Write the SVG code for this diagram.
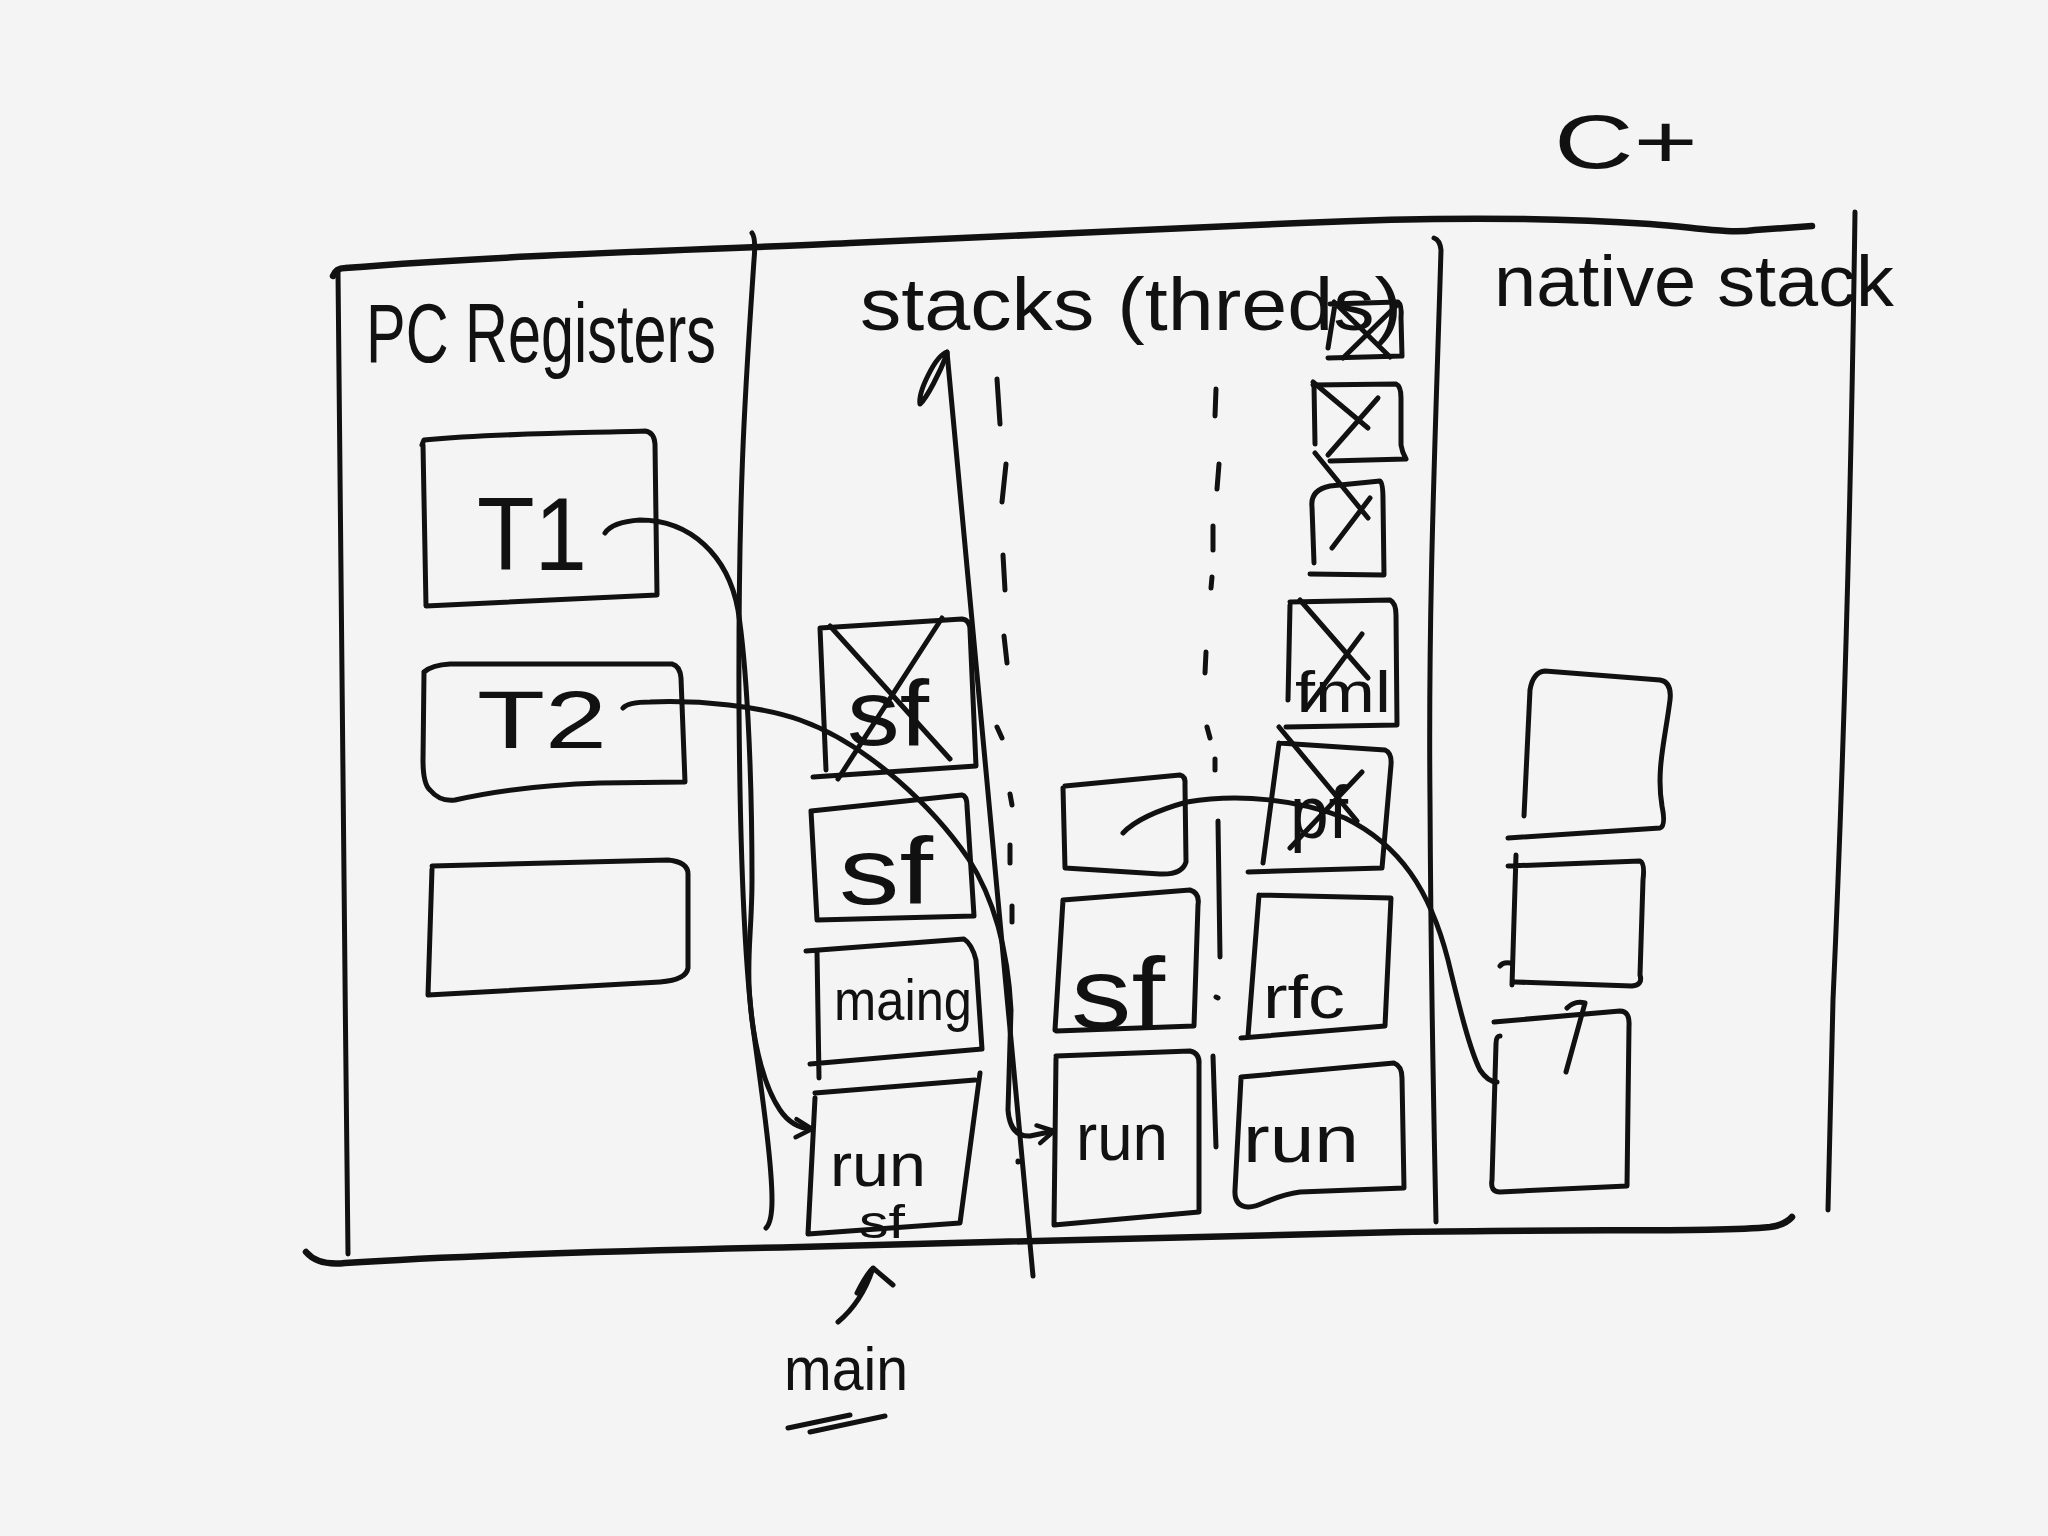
<svg xmlns="http://www.w3.org/2000/svg" width="2048" height="1536" viewBox="0 0 2048 1536">
<style>
.s{fill:none;stroke:#111;stroke-width:5;stroke-linecap:round;stroke-linejoin:round}
.b{fill:none;stroke:#111;stroke-width:6.5;stroke-linecap:round;stroke-linejoin:round}
.t{font-family:"Liberation Sans","DejaVu Sans",sans-serif;fill:#111}
</style>
<defs>
<marker id="chev" markerWidth="24" markerHeight="24" refX="20" refY="12" orient="auto" markerUnits="userSpaceOnUse">
<path d="M4,3 L20,12 L4,21" fill="none" stroke="#111" stroke-width="4.5" stroke-linecap="round" stroke-linejoin="round"/>
</marker>
</defs>
<rect width="2048" height="1536" fill="#f4f4f4"/>

<g id="frame">
<path class="b" d="M333,276 Q336,268 345,268 C520,254 700,250 850,243 C1000,236 1150,230 1300,223 C1450,216 1560,218 1650,224 C1700,228 1730,234 1755,230 L1812,226"/>
<path class="b" d="M306,1252 Q318,1266 345,1263 C480,1254 650,1250 800,1247 C1000,1242 1200,1236 1400,1232 C1600,1229 1720,1232 1770,1227 Q1785,1225 1792,1217"/>
<path class="s" d="M338,272 C340,500 344,900 348,1254"/>
<path class="s" d="M752,233 Q756,238 754,260 C746,380 738,480 739,710 C740,850 744,950 752,1020 C760,1080 772,1160 772,1200 Q772,1222 766,1228"/>
<path class="s" d="M1434,238 Q1440,240 1441,250 C1436,420 1428,600 1430,800 C1431,1000 1434,1120 1436,1222"/>
<path class="s" d="M1855,212 C1851,500 1842,800 1833,1000 C1830,1100 1829,1160 1828,1210"/>
</g>

<g id="headers">
<text class="t" x="366" y="362" font-size="84" textLength="350" lengthAdjust="spacingAndGlyphs">PC Registers</text>
<text class="t" x="860" y="330" font-size="74" textLength="542" lengthAdjust="spacingAndGlyphs">stacks (threds)</text>
<text class="t" x="1494" y="306" font-size="72" textLength="400" lengthAdjust="spacingAndGlyphs">native stack</text>
<text class="t" x="1554" y="168" font-size="76" textLength="144" lengthAdjust="spacingAndGlyphs">C+</text>
</g>

<g id="pc-t1">
<path class="s" d="M422,445 L424,440 C500,433 580,433 645,431 Q654,432 655,444 L657,595 L426,606 L423,445"/>
<text class="t" x="477" y="570" font-size="104" textLength="110" lengthAdjust="spacingAndGlyphs">T1</text>
</g>
<g id="pc-t2">
<path class="s" d="M424,672 Q432,665 450,664 L672,664 Q680,666 681,678 L685,782 L600,783 C540,785 490,792 455,800 Q440,802 430,790 Q423,784 423,760 L424,672"/>
<text class="t" x="477" y="748" font-size="82" textLength="130" lengthAdjust="spacingAndGlyphs">T2</text>
</g>
<g id="pc-t3">
<path class="s" d="M432,866 L668,860 Q688,862 688,874 L688,968 Q686,980 660,982 L428,995 L432,869"/>
</g>

<g id="t1-sf-crossed">
<path class="s" d="M820,628 L962,619 Q970,620 970,630 L976,766 L813,777 M820,628 L826,770"/>
<path class="s" d="M830,626 L950,759 M942,618 L838,779"/>
<text class="t" x="847" y="745" font-size="92" textLength="82" lengthAdjust="spacingAndGlyphs">sf</text>
</g>
<g id="t1-sf">
<path class="s" d="M811,811 L962,795 Q967,796 967,806 L974,916 L817,920 L811,811"/>
<text class="t" x="839" y="904" font-size="94" textLength="94" lengthAdjust="spacingAndGlyphs">sf</text>
</g>
<g id="t1-main">
<path class="s" d="M806,951 L964,939 Q972,944 976,960 L982,1049 L810,1064 M817,951 L819,1078"/>
<text class="t" x="834" y="1020" font-size="58" textLength="138" lengthAdjust="spacingAndGlyphs">maing</text>
</g>
<g id="t1-run-sf">
<path class="s" d="M815,1093 L975,1080 M980,1073 L960,1223 L808,1234 L815,1098"/>
<text class="t" x="830" y="1186" font-size="62" textLength="96" lengthAdjust="spacingAndGlyphs">run</text>
<text class="t" x="859" y="1238" font-size="46" textLength="46" lengthAdjust="spacingAndGlyphs">sf</text>
</g>

<g id="t2-empty">
<path class="s" d="M1065,786 L1180,775 Q1186,776 1185,786 L1186,862 Q1182,875 1160,874 L1065,868 L1063,788"/>
</g>
<g id="t2-sf">
<path class="s" d="M1063,900 L1190,890 Q1200,893 1198,905 L1194,1026 L1056,1031 M1063,900 L1055,1030"/>
<text class="t" x="1071" y="1028" font-size="100" textLength="94" lengthAdjust="spacingAndGlyphs">sf</text>
</g>
<g id="t2-run">
<path class="s" d="M1056,1056 L1190,1051 Q1200,1053 1199,1065 L1199,1212 L1054,1225 L1056,1058"/>
<text class="t" x="1076" y="1160" font-size="66" textLength="92" lengthAdjust="spacingAndGlyphs">run</text>
</g>

<g id="t3-x1">
<path class="s" d="M1330,304 L1398,302 Q1402,305 1401,318 L1402,356 L1328,358 M1335,304 L1328,348"/>
<path class="s" d="M1334,302 L1390,357 M1397,305 L1343,358"/>
</g>
<g id="t3-x2">
<path class="s" d="M1313,385 L1396,384 Q1401,386 1401,398 L1401,445 Q1402,452 1406,459 L1330,461 M1314,385 L1315,444"/>
<path class="s" d="M1313,382 L1368,428 M1378,398 L1328,455"/>
</g>
<g id="t3-x3">
<path class="s" d="M1312,507 Q1310,490 1330,486 L1380,481 Q1383,483 1383,500 L1384,575 L1310,574 M1312,507 L1314,563"/>
<path class="s" d="M1315,453 L1368,518 M1370,498 L1332,548"/>
</g>
<g id="t3-fml">
<path class="s" d="M1290,602 L1390,600 Q1396,603 1396,615 L1397,725 L1286,727 M1290,605 L1288,700"/>
<path class="s" d="M1300,600 L1368,678 M1362,634 L1306,709"/>
<text class="t" x="1295" y="712" font-size="58" textLength="96" lengthAdjust="spacingAndGlyphs">fml</text>
</g>
<g id="t3-pf">
<path class="s" d="M1279,743 L1385,750 Q1392,753 1391,765 L1382,868 L1248,872 M1279,743 L1263,863"/>
<path class="s" d="M1279,727 L1357,821 M1362,772 L1290,848"/>
<text class="t" x="1290" y="838" font-size="74" textLength="58" lengthAdjust="spacingAndGlyphs">pf</text>
</g>
<g id="t3-rfc">
<path class="s" d="M1259,895 L1391,898 L1385,1026 L1241,1038 M1259,895 L1248,1036"/>
<text class="t" x="1263" y="1018" font-size="62" textLength="82" lengthAdjust="spacingAndGlyphs">rfc</text>
</g>
<g id="t3-run">
<path class="s" d="M1241,1077 L1394,1063 Q1402,1066 1402,1078 L1404,1188 L1300,1192 C1270,1196 1260,1208 1248,1207 Q1234,1206 1235,1190 L1241,1078"/>
<text class="t" x="1243" y="1162" font-size="66" textLength="116" lengthAdjust="spacingAndGlyphs">run</text>
</g>

<g id="n-box1">
<path class="s" d="M1524,816 L1530,690 Q1533,672 1545,671 L1660,680 Q1672,682 1670,700 C1665,740 1656,770 1662,806 Q1666,826 1660,828 L1508,838"/>
</g>
<g id="n-box2">
<path class="s" d="M1508,866 L1640,861 Q1645,863 1643,880 L1640,975 Q1643,985 1632,986 L1515,982 M1516,855 L1512,985 M1500,966 Q1503,962 1510,963"/>
</g>
<g id="n-box3">
<path class="s" d="M1494,1022 L1620,1011 Q1630,1011 1629,1026 L1627,1186 L1500,1192 Q1490,1192 1492,1180 L1496,1044 Q1496,1036 1500,1036"/>
<path class="s" d="M1567,1008 Q1575,1000 1585,1003 L1566,1072"/>
</g>

<g id="main-label">
<text class="t" x="784" y="1390" font-size="62" textLength="124" lengthAdjust="spacingAndGlyphs">main</text>
<path class="s" d="M788,1428 L850,1415 M810,1432 L885,1416"/>
<path class="s" d="M838,1322 Q862,1302 873,1268 M857,1293 Q866,1275 873,1268 L893,1285"/>
</g>

<g id="connectors">
<path class="s" d="M947,352 L1033,1276"/>
<path class="s" d="M947,352 C935,356 918,392 920,404 C927,398 940,372 947,354"/>
<path class="s" d="M997,379 L1000,424 M1006,464 L1002,502 M1003,555 L1005,590 M1004,636 L1007,663 M997,727 L1002,738 M1010,794 L1012,805 M1010,845 L1010,863 M1012,906 L1012,922 M1018,1161 L1018,1162"/>
<path class="s" d="M1216,389 L1215,416 M1219,464 L1217,489 M1213,526 L1213,550 M1212,577 L1211,588 M1206,652 L1205,673 M1207,727 L1210,738 M1215,759 L1215,770 M1218,821 L1220,957 M1216,997 L1218,998 M1213,1056 L1216,1147"/>
<path class="s" marker-end="url(#chev)" d="M605,533 Q612,522 640,520 C690,520 728,555 738,610 C746,660 752,760 752,880 C752,930 746,960 750,1000 C754,1050 766,1090 780,1110 Q792,1128 812,1129"/>
<path class="s" marker-end="url(#chev)" d="M623,708 Q628,702 650,702 C700,700 760,706 800,720 C870,745 935,810 968,858 C995,900 1008,950 1011,1010 L1008,1110 Q1010,1137 1030,1136 L1054,1131"/>
<path class="s" d="M1123,833 Q1140,815 1187,802 C1240,793 1300,800 1345,818 C1400,845 1430,890 1448,960 C1460,1010 1470,1050 1480,1070 Q1488,1082 1497,1082"/>
</g>
</svg>
